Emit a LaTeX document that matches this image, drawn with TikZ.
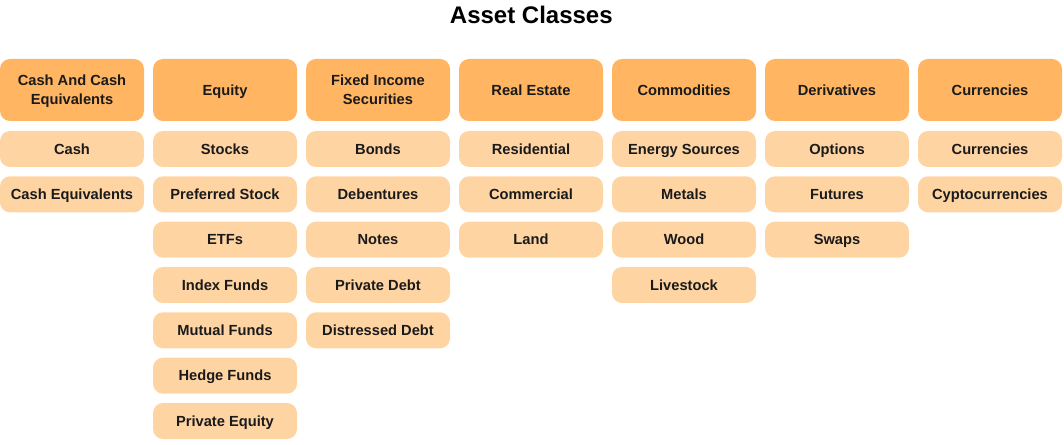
\documentclass[tikz,border=0pt]{standalone}
\usepackage{fontspec}
\setmainfont{Liberation Sans}
\usetikzlibrary{positioning}
\definecolor{HeadColor}{HTML}{FFB562}
\definecolor{ItemColor}{HTML}{FFD4A3}
\definecolor{TextDark}{HTML}{1A1A1A}

\begin{document}
\begin{tikzpicture}[
        node distance=7pt and 6.75pt,
        head/.style={rectangle, fill=HeadColor, rounded corners=7.5pt, minimum width=108pt, minimum height=46.5pt, inner sep=0pt, outer sep=0pt, text height=10.4pt, text depth=2.6pt, align=center, font=\fontsize{11}{14.5}\selectfont\bfseries, text=TextDark},
        headtwo/.style={head, text height=25pt},
        item/.style={rectangle, fill=ItemColor, rounded corners=7.5pt, minimum width=108pt, minimum height=27pt, inner sep=0pt, outer sep=0pt, text height=10.4pt, text depth=2.6pt, align=center, font=\fontsize{11}{13}\selectfont\bfseries, text=TextDark}
      ]
        \useasboundingbox (0,0) rectangle (798pt,-333.75pt);
        \node[font=\fontsize{18}{22}\selectfont\bfseries, text=black] (title) at (398.5pt,-11.5pt) {Asset Classes};

        % header row
        \node[headtwo] (cash) at (54pt,-67.5pt) {Cash And Cash \\ Equivalents};
        \node[head, right=of cash] (equity) {Equity};
        \node[headtwo, right=of equity] (fixed) {Fixed Income \\ Securities};
        \node[head, right=of fixed] (estate) {Real Estate};
        \node[head, right=of estate] (commod) {Commodities};
        \node[head, right=of commod] (deriv) {Derivatives};
        \node[head, right=of deriv] (curr) {Currencies};

        % cash
        \node[item, below=7.5pt of cash] (cashA) {Cash};
        \node[item, below=of cashA] (cashB) {Cash Equivalents};

        % equity
        \node[item, below=7.5pt of equity] (eqA) {Stocks};
        \node[item, below=of eqA] (eqB) {Preferred Stock};
        \node[item, below=of eqB] (eqC) {ETFs};
        \node[item, below=of eqC] (eqD) {Index Funds};
        \node[item, below=of eqD] (eqE) {Mutual Funds};
        \node[item, below=of eqE] (eqF) {Hedge Funds};
        \node[item, below=of eqF] (eqG) {Private Equity};

        % fixed income
        \node[item, below=7.5pt of fixed] (fiA) {Bonds};
        \node[item, below=of fiA] (fiB) {Debentures};
        \node[item, below=of fiB] (fiC) {Notes};
        \node[item, below=of fiC] (fiD) {Private Debt};
        \node[item, below=of fiD] (fiE) {Distressed Debt};

        % real estate
        \node[item, below=7.5pt of estate] (reA) {Residential};
        \node[item, below=of reA] (reB) {Commercial};
        \node[item, below=of reB] (reC) {Land};

        % commodities
        \node[item, below=7.5pt of commod] (coA) {Energy Sources};
        \node[item, below=of coA] (coB) {Metals};
        \node[item, below=of coB] (coC) {Wood};
        \node[item, below=of coC] (coD) {Livestock};

        % derivatives
        \node[item, below=7.5pt of deriv] (deA) {Options};
        \node[item, below=of deA] (deB) {Futures};
        \node[item, below=of deB] (deC) {Swaps};

        % currencies
        \node[item, below=7.5pt of curr] (cuA) {Currencies};
        \node[item, below=of cuA] (cuB) {Cyptocurrencies};
      \end{tikzpicture}
\end{document}
